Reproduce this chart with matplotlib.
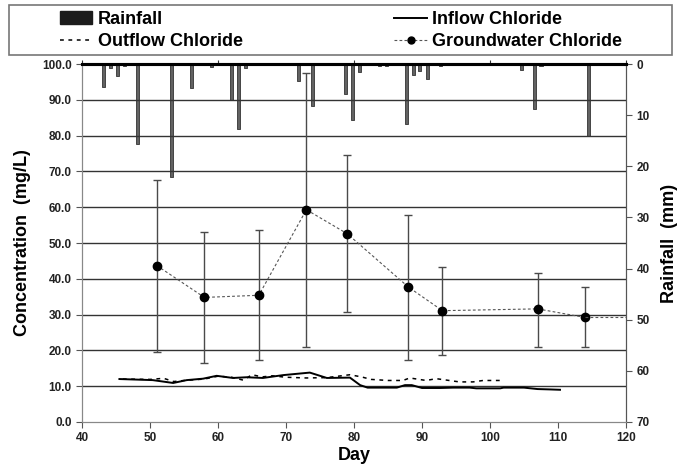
import matplotlib.pyplot as plt
from matplotlib.patches import Patch, Rectangle
from matplotlib.lines import Line2D

plt.rcParams['font.family'] = ['Liberation Sans', 'DejaVu Sans']

# rainfall (mm), hangs from the top on the right axis
rain_day = [43.2, 44.2, 45.2, 46.2, 48.2, 53.2, 56.1, 59.1, 62.0, 63.0, 64.0,
            71.9, 73.9, 78.8, 79.8, 80.8, 83.7, 84.8, 87.7, 88.7, 89.7, 90.8,
            92.7, 104.6, 106.6, 107.5, 114.5]
rain_mm = [4.4, 0.8, 2.3, 0.3, 15.6, 22.0, 4.7, 0.5, 7.0, 12.8, 0.8,
           3.3, 8.2, 5.9, 11.0, 1.6, 0.3, 0.3, 11.7, 2.1, 1.3, 2.9,
           0.3, 1.1, 8.7, 0.3, 14.0]

# groundwater chloride, mean with min/max bars
gw_day = [51, 58, 66, 73, 79, 88, 93, 107, 114]
gw_mean = [43.7, 34.8, 35.4, 59.3, 52.6, 37.7, 31.1, 31.6, 29.2]
gw_hi = [67.7, 53.0, 53.5, 97.5, 74.5, 57.7, 43.3, 41.7, 37.6]
gw_lo = [19.5, 16.4, 17.2, 21.0, 30.6, 17.4, 18.7, 20.9, 20.9]
gw_tail_day = [114, 120]
gw_tail = [29.2, 29.2]

inflow_day = [45.5, 50.4, 53.4, 55.4, 57.8, 59.8, 62.2, 64.2, 66.6, 69.6, 73.5,
              76.0, 79.4, 80.9, 82.0, 86.3, 87.5, 88.5, 90.0, 92.7, 94.6, 97.0,
              98.0, 101.5, 102.0, 105.0, 107.0, 108.8, 110.3]
inflow = [12.0, 11.7, 10.9, 11.7, 12.1, 12.9, 12.3, 12.5, 12.3, 13.1, 13.8,
          12.3, 12.4, 10.3, 9.6, 9.6, 10.3, 10.3, 9.5, 9.5, 9.6, 9.6,
          9.4, 9.4, 9.6, 9.6, 9.2, 9.1, 9.0]

outflow_day = [46, 50, 52, 53.5, 55, 58, 60, 62, 63.7, 65, 66.5, 68, 70, 73,
               76, 79.4, 81.1, 82.5, 85, 87.2, 88.2, 90.6, 92.1, 94, 95.5,
               97.5, 99, 102]
outflow = [12.0, 11.9, 12.2, 11.3, 11.6, 12.0, 12.8, 12.5, 11.7, 13.2, 12.6,
           12.9, 12.5, 12.3, 12.4, 13.2, 12.6, 11.9, 11.6, 11.6, 12.3, 11.6,
           12.1, 11.6, 11.2, 11.2, 11.6, 11.6]

fig = plt.figure(figsize=(6.79, 4.68), dpi=100)
ax = fig.add_axes([0.1208, 0.0983, 0.8011, 0.7649])
ax2 = ax.twinx()

ax.set_xlim(40, 120)
ax.set_ylim(0, 100)
ax2.set_ylim(70, 0)

ax.set_yticks(range(0, 101, 10))
ax.set_yticklabels(['%.1f' % v for v in range(0, 101, 10)])
ax.set_xticks(range(40, 121, 10))
ax2.set_yticks(range(0, 71, 10))

for y in range(10, 100, 10):
    ax.axhline(y, color='#333333', lw=1.0, zorder=1)

ax2.bar(rain_day, rain_mm, width=0.45, color='#626262', edgecolor='#333333',
        linewidth=0.6, zorder=2)

ax.plot(inflow_day, inflow, color='black', lw=1.4, zorder=4)
ax.plot(outflow_day, outflow, color='black', lw=1.1, linestyle=(0, (2.5, 3)), zorder=4)

ax.errorbar(gw_day, gw_mean, yerr=[[m - l for m, l in zip(gw_mean, gw_lo)],
                                   [h - m for h, m in zip(gw_hi, gw_mean)]],
            fmt='none', ecolor='#4a4a4a', elinewidth=1.0, capsize=3, capthick=1.0,
            zorder=3)
ax.plot(gw_day, gw_mean, color='#555555', lw=0.8, linestyle=(0, (2.5, 2)),
        marker='o', markersize=6, markerfacecolor='black', markeredgecolor='black',
        zorder=5)
ax.plot(gw_tail_day, gw_tail, color='#555555', lw=0.8, linestyle=(0, (2.5, 2)), zorder=5)

# put the concentration axis above the rainfall bars
ax.set_zorder(ax2.get_zorder() + 1)
ax.patch.set_visible(False)

for a in (ax, ax2):
    a.spines['left'].set_color('#888888')
    a.spines['bottom'].set_color('#888888')
    a.spines['right'].set_color('#555555')
    a.spines['top'].set_color('black')
    a.spines['top'].set_linewidth(2.2)

tick_font = dict(labelsize=8.5, length=4, width=0.8, color='#555555', labelcolor='#222222')
ax.tick_params(axis='both', **tick_font)
ax2.tick_params(axis='y', **tick_font)
for lab in ax.get_xticklabels() + ax.get_yticklabels() + ax2.get_yticklabels():
    lab.set_fontweight('bold')

top = ax.secondary_xaxis('top')
top.set_xticks(range(40, 121, 20))
top.set_xticklabels([])
top.tick_params(length=3, width=0.8, color='#333333')
top.spines['top'].set_visible(False)

ax.set_xlabel('Day', fontsize=13, fontweight='bold', labelpad=2)
ax.set_ylabel('Concentration  (mg/L)', fontsize=13, fontweight='bold', labelpad=8)
ax2.set_ylabel('Rainfall  (mm)', fontsize=13, fontweight='bold', labelpad=8)

# legend inside a box spanning the figure top
fig.patches.append(Rectangle((9 / 679, 1 - 55 / 468), 663 / 679, 50 / 468,
                             transform=fig.transFigure, fill=False,
                             edgecolor='#777777', lw=1.2))
handles = [Patch(facecolor='#1c1c1c', edgecolor='#1c1c1c'),
           Line2D([], [], color='black', lw=1.1, linestyle=(0, (2.5, 3))),
           Line2D([], [], color='black', lw=1.4),
           Line2D([], [], color='#555555', lw=0.8, linestyle=(0, (2.5, 2)),
                  marker='o', markersize=5, markerfacecolor='black',
                  markeredgecolor='black')]
labels = ['Rainfall', 'Outflow Chloride', 'Inflow Chloride', 'Groundwater Chloride']
fig.legend(handles, labels, loc='upper left', bbox_to_anchor=(49 / 679, 1 - 0 / 468),
           ncol=2, frameon=False, handlelength=1.8, handletextpad=0.3,
           columnspacing=8.4, labelspacing=0.3, borderpad=0.1,
           prop={'size': 13, 'weight': 'bold'})

fig.savefig('out.png', dpi=100)
